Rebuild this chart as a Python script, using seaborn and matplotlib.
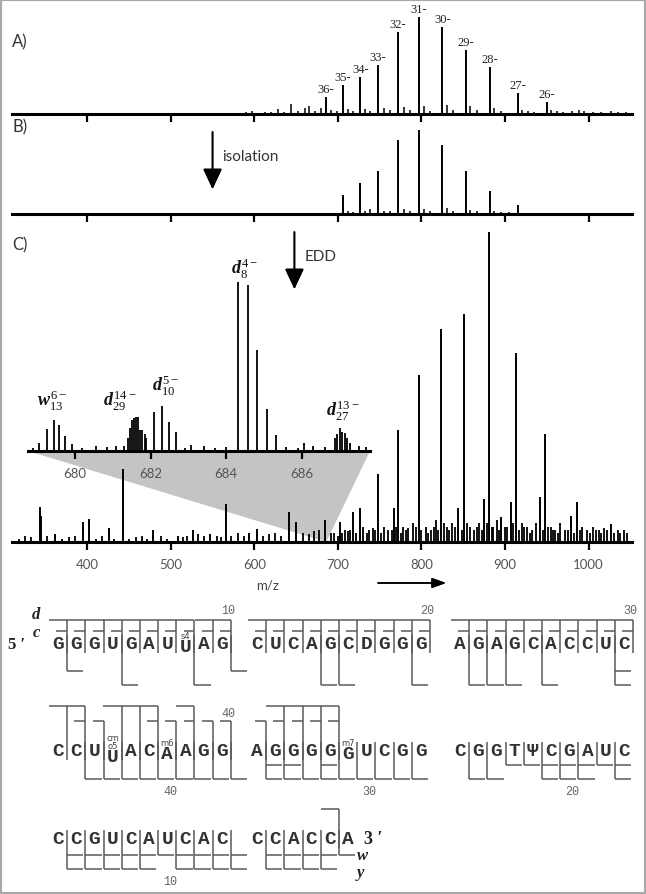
import matplotlib.pyplot as plt
import seaborn as sns
from matplotlib.patches import Polygon, Rectangle

sns.set_theme(style="white")
plt.rcParams["font.family"] = ["Lato", "DejaVu Sans"]
plt.rcParams["mathtext.fontset"] = "custom"
plt.rcParams["mathtext.rm"] = "Liberation Serif"
plt.rcParams["mathtext.it"] = "Liberation Serif:italic"
plt.rcParams["mathtext.bf"] = "Liberation Serif:italic:bold"

# ---------------------------------------------------------------- spectra data
MZ_TICKS = [400, 500, 600, 700, 800, 900, 1000]
MZ_RANGE = (310, 1052)

# A) full MS, charge-state ladder
A_MZ = [686, 706, 727, 748, 772, 797, 825, 853, 882, 915, 950]
A_INT = [0.18, 0.30, 0.38, 0.50, 0.84, 1.00, 0.90, 0.66, 0.48, 0.22, 0.12]
A_CHARGE = ["36-", "35-", "34-", "33-", "32-", "31-", "30-", "29-", "28-", "27-", "26-"]
A_NOISE_MZ = [540, 560, 575, 590, 597, 605, 613, 620, 628, 636, 644, 652, 661, 666, 673, 680,
              692, 699, 712, 718, 733, 739, 755, 762, 779, 786, 803, 810, 831, 838, 858, 866,
              887, 895, 920, 927, 935, 955, 962, 970, 980, 988, 995, 1005, 1015, 1027, 1035, 1045]
A_NOISE_INT = [0.01, 0.015, 0.01, 0.02, 0.03, 0.015, 0.025, 0.02, 0.05, 0.02, 0.10, 0.03, 0.06,
               0.08, 0.03, 0.06, 0.04, 0.03, 0.05, 0.03, 0.05, 0.03, 0.06, 0.04, 0.07, 0.04, 0.08,
               0.03, 0.09, 0.04, 0.08, 0.04, 0.06, 0.03, 0.04, 0.03, 0.02, 0.04, 0.03, 0.02, 0.03,
               0.04, 0.03, 0.02, 0.02, 0.03, 0.02, 0.02]

# B) after isolation
B_MZ = [706, 727, 748, 772, 797, 825, 853, 882, 915]
B_INT = [0.23, 0.37, 0.52, 0.89, 1.00, 0.83, 0.51, 0.28, 0.105]
B_NOISE_MZ = [712, 718, 733, 739, 755, 762, 779, 786, 803, 810, 831, 838, 858, 866, 887, 895, 905]
B_NOISE_INT = [0.03, 0.02, 0.04, 0.06, 0.04, 0.03, 0.06, 0.04, 0.06, 0.03, 0.07, 0.04, 0.05, 0.04,
               0.04, 0.02, 0.02]

# C) EDD spectrum
C_MZ = [343, 345, 362, 395, 402, 426, 443, 479, 509, 527, 547, 566, 594, 603, 642, 650, 684, 702,
        718, 727, 748, 767, 772, 797, 823, 844, 851, 875, 881, 895, 907, 913, 942, 948, 979, 986, 1027]
C_INT = [0.112, 0.083, 0.025, 0.065, 0.074, 0.044, 0.235, 0.04, 0.02, 0.04, 0.027, 0.123, 0.028,
         0.041, 0.096, 0.065, 0.071, 0.065, 0.096, 0.11, 0.22, 0.11, 0.36, 0.54, 0.686, 0.11, 0.735,
         0.14, 1.0, 0.08, 0.13, 0.61, 0.146, 0.35, 0.085, 0.13, 0.057]
C_NOISE_MZ = [318, 325, 333, 352, 370, 378, 385, 410, 418, 432, 450, 458, 465, 472, 488, 495, 515,
              520, 533, 540, 555, 560, 572, 580, 588, 610, 618, 625, 632, 658, 665, 672, 678, 692,
              708, 712, 730, 737, 742, 755, 760, 778, 784, 790, 805, 812, 818, 830, 836, 858, 863,
              869, 886, 890, 900, 920, 926, 932, 937, 955, 960, 966, 972, 992, 998, 1005, 1012, 1018,
              1035, 1042]
C_NOISE_INT = [0.01, 0.02, 0.015, 0.02, 0.01, 0.015, 0.02, 0.01, 0.02, 0.01, 0.01, 0.015, 0.02,
               0.01, 0.02, 0.01, 0.015, 0.02, 0.025, 0.02, 0.02, 0.015, 0.02, 0.03, 0.02, 0.02,
               0.025, 0.03, 0.02, 0.03, 0.025, 0.035, 0.04, 0.03, 0.04, 0.035, 0.05, 0.04, 0.045,
               0.05, 0.04, 0.05, 0.045, 0.06, 0.05, 0.04, 0.07, 0.05, 0.06, 0.05, 0.04, 0.06, 0.05,
               0.07, 0.05, 0.06, 0.05, 0.04, 0.06, 0.05, 0.04, 0.06, 0.04, 0.05, 0.04, 0.05, 0.04,
               0.045, 0.04, 0.04]
C_NOISE2_MZ = [695, 700, 705, 715, 722, 735, 745, 752, 765, 770, 775, 782, 793, 800, 808, 815, 820,
               827, 833, 840, 848, 855, 866, 872, 878, 884, 893, 903, 910, 917, 923, 930, 945, 952,
               958, 964, 976, 983, 990, 1002, 1009, 1015, 1022, 1030, 1038, 1046]
C_NOISE2_INT = [0.03, 0.02, 0.03, 0.04, 0.03, 0.03, 0.04, 0.03, 0.04, 0.05, 0.03, 0.04, 0.05,
                0.04, 0.03, 0.05, 0.04, 0.06, 0.04, 0.05, 0.04, 0.06, 0.05, 0.04, 0.06, 0.05,
                0.04, 0.05, 0.06, 0.04, 0.05, 0.03, 0.04, 0.05, 0.04, 0.03, 0.04, 0.03, 0.04,
                0.03, 0.04, 0.03, 0.04, 0.03, 0.03, 0.03]
ZOOM_MZ = 686

# inset (zoom 679-688)
INS_RANGE = (678.76, 687.8)
INS_TICKS = [680, 682, 684, 686]
INS_MZ = [678.9, 679.06, 679.26, 679.44, 679.59, 679.75, 679.93, 680.2, 680.56, 680.85, 681.09,
          681.3, 681.40, 681.46, 681.52, 681.57, 681.62, 681.68, 681.73, 681.78, 681.84, 681.89,
          682.08, 682.29, 682.49, 682.68, 682.9, 683.08, 683.4, 683.7, 684.0, 684.32, 684.58,
          684.80, 685.07, 685.31, 685.57, 685.9, 686.05, 686.3, 686.6, 686.88, 686.94, 687.01,
          687.07, 687.14, 687.20, 687.27, 687.5, 687.7]
INS_INT = [0.015, 0.046, 0.133, 0.183, 0.153, 0.09, 0.04, 0.02, 0.03, 0.025, 0.03, 0.03, 0.08,
           0.139, 0.183, 0.195, 0.203, 0.199, 0.124, 0.124, 0.10, 0.08, 0.229, 0.269, 0.173, 0.11,
           0.02, 0.036, 0.03, 0.02, 0.025, 1.0, 0.986, 0.598, 0.249, 0.094, 0.024, 0.02, 0.05,
           0.03, 0.025, 0.08, 0.10, 0.139, 0.11, 0.106, 0.08, 0.05, 0.03, 0.025]
INS_ION = ["w", "d", "d", "d", "d"]
INS_NUM = ["13", "29", "10", "8", "27"]
INS_Z = ["6", "14", "5", "4", "13"]
INS_LAB_MZ = [679.0, 680.73, 682.05, 684.12, 686.65]
INS_LAB_Y = [0.27, 0.27, 0.36, 1.05, 0.21]

# ---------------------------------------------------------------- sequence data
SEQ = "GGGUGAUUAGCUCAGCDGGGAGAGCACCUCCCUUACAAGGAGGGGGUCGGCGGTΨCGAUCCCGUCAUCACCCACCA"
MODS = {8: "s4", 34: "cm\no5", 37: "m6", 46: "m7"}
D_FRAGS = [1, 2, 3, 4, 5, 6, 7, 8, 9, 10, 11, 12, 13, 14, 15, 16, 17, 18, 19, 20, 21, 22, 23,
           24, 25, 26, 27, 28, 29, 30, 31, 32, 34, 35, 36, 38, 42, 43, 44, 45, 75]
C_FRAGS = [1, 2, 3, 4, 5, 6, 7, 8, 9, 10, 11, 12, 13, 14, 15, 16, 17, 18, 19, 20, 21, 22, 23,
           24, 25, 26, 27, 28, 29, 30, 32, 33, 36, 37, 38, 39, 40, 41, 42, 43, 44, 45]
W_FRAGS = [75, 66, 47, 35, 34, 32, 23, 22, 21, 20, 19, 18, 17, 15, 14, 13, 12, 11, 10, 9, 8, 7,
           6, 5, 4, 3, 2, 1]
Y_FRAGS = [72, 68, 62, 61, 57, 55, 54, 53, 51, 47, 44, 43, 42, 41, 40, 39, 38, 37, 36, 35, 34,
           33, 32, 31, 30, 29, 28, 27, 25, 24, 21, 20, 19, 17, 15, 14, 13, 12, 11, 9, 8, 7, 6, 5,
           4, 3, 2]
TOP_NUMS = [10, 20, 30, 40]
BOTTOM_NUMS = [40, 30, 20, 10]

# layout of the sequence map (figure pixels)
PITCH = 18.2
BLOCK_X0 = [58, 257, 460]
ROW_Y = [645, 752, 840]
D_LEVEL = [621, 707, 810]
C_LEVEL = [632, 722, 822]
W_LEVEL = [672, 766, 856]
Y_LEVEL = [686, 780, 870]
TOPNUM_Y = [611, 714, 0]
BOTNUM_Y = [0, 792, 882]

W, H = 646, 895
fig = plt.figure(figsize=(W / 100, H / 100), dpi=100)
fig.patch.set_facecolor("white")


def px_axes(x0, y0, x1, y1):
    return fig.add_axes([x0 / W, 1 - y1 / H, (x1 - x0) / W, (y1 - y0) / H])


def style_spectrum(ax, xlim, ticks, labels):
    ax.set_xlim(*xlim)
    ax.set_facecolor("none")
    for s in ["top", "right", "left"]:
        ax.spines[s].set_visible(False)
    ax.spines["bottom"].set_linewidth(2.2)
    ax.spines["bottom"].set_color("black")
    ax.set_yticks([])
    ax.set_xticks(ticks)
    ax.tick_params(axis="x", bottom=True, direction="out", length=5.5, width=1.6, color="black",
                   labelsize=9.5, labelcolor="#555", pad=6)
    if not labels:
        ax.set_xticklabels([])


def ptext(x, y, s, **kw):
    fig.text(x / W, 1 - y / H, s, **kw)


# A
ax_a = px_axes(12, 12, 632, 115)
style_spectrum(ax_a, MZ_RANGE, MZ_TICKS, False)
ax_a.set_ylim(0, 1.06)
ax_a.vlines(A_NOISE_MZ, 0, A_NOISE_INT, color="black", lw=1.1)
ax_a.vlines(A_MZ, 0, A_INT, color="black", lw=1.4)
for mz, h, lab in zip(A_MZ, A_INT, A_CHARGE):
    ax_a.text(mz, h + 0.02, lab, ha="center", va="bottom", fontsize=9,
              family="Liberation Serif", color="#222")

# B
ax_b = px_axes(12, 128, 632, 215)
style_spectrum(ax_b, MZ_RANGE, MZ_TICKS, False)
ax_b.set_ylim(0, 1.04)
ax_b.vlines(B_NOISE_MZ, 0, B_NOISE_INT, color="black", lw=1.1)
ax_b.vlines(B_MZ, 0, B_INT, color="black", lw=1.4)

# C
ax_c = px_axes(12, 233, 632, 543)
style_spectrum(ax_c, MZ_RANGE, MZ_TICKS, True)
ax_c.set_ylim(0, 1.0)
ax_c.vlines(C_NOISE_MZ, 0, C_NOISE_INT, color="black", lw=1.3, zorder=2)
ax_c.vlines(C_NOISE2_MZ, 0, C_NOISE2_INT, color="black", lw=1.3, zorder=2)
ax_c.vlines(C_MZ, 0, C_INT, color="black", lw=1.4, zorder=2)

# inset
ax_i = px_axes(28, 280, 370, 452)
style_spectrum(ax_i, INS_RANGE, INS_TICKS, True)
ax_i.set_ylim(0, 1.02)
ax_i.vlines(INS_MZ, 0, INS_INT, color="black", lw=1.3)
for ion, num, z, mz, y in zip(INS_ION, INS_NUM, INS_Z, INS_LAB_MZ, INS_LAB_Y):
    ax_i.text(mz, y, rf"$\mathbf{{{ion}}}_{{{num}}}^{{\,{z}-}}$", fontsize=13, ha="left",
              va="baseline", color="#111", clip_on=False)

# grey wedge linking inset to the main axis
p_left = ax_i.transAxes.transform((0, 0))
p_right = ax_i.transAxes.transform((1, 0))
p_apex = ax_c.transData.transform((ZOOM_MZ, 0))
wedge = ax_c.transData.inverted().transform([p_left, p_right, p_apex])
ax_c.add_patch(Polygon(wedge, closed=True, facecolor="#c4c4c4", edgecolor="none", zorder=0,
                       clip_on=False))

# panel letters, arrows, axis label
for lab, y in zip(["A)", "B)", "C)"], [42, 127, 245]):
    ptext(12, y, lab, fontsize=12, color="#333", va="center", ha="left")


def down_arrow(ax, mz, y0, y1, label):
    x = ax.transData.transform((mz, 0))[0]
    fig.add_artist(plt.annotate("", xy=(x, H - y1), xytext=(x, H - y0), xycoords="figure pixels",
                                textcoords="figure pixels",
                                arrowprops=dict(arrowstyle="-|>,head_length=0.9,head_width=0.42",
                                                mutation_scale=14, lw=1.2, color="black",
                                                shrinkA=0, shrinkB=0)))
    ptext(x + 10, y0 + 24, label, fontsize=11, color="#333", va="center", ha="left")


down_arrow(ax_b, 550, 133, 190, "isolation")
down_arrow(ax_c, 648, 233, 290, "EDD")

ptext(268, 586, "m/z", fontsize=9.5, color="#444", ha="center", va="center")
fig.add_artist(plt.annotate("", xy=(446, H - 584), xytext=(378, H - 584), xycoords="figure pixels",
                            textcoords="figure pixels",
                            arrowprops=dict(arrowstyle="-|>,head_length=0.7,head_width=0.25",
                                            mutation_scale=12, lw=1.1, color="black",
                                            shrinkA=0, shrinkB=0)))

# ---------------------------------------------------------------- sequence map
ax_s = fig.add_axes([0, 0, 1, (H - 597) / H])
ax_s.set_xlim(0, W)
ax_s.set_ylim(H, 597)
ax_s.axis("off")

LINE = dict(color="#5a5a5a", lw=1.1, solid_capstyle="butt")
MONO = ["Liberation Mono", "DejaVu Sans Mono"]


def res_pos(n):
    k = (n - 1) // 10
    return BLOCK_X0[k % 3] + ((n - 1) % 10) * PITCH, k // 3


for n, base in enumerate(SEQ, start=1):
    x, row = res_pos(n)
    y = ROW_Y[row]
    if n in MODS:
        shift = 6 if "\n" in MODS[n] else 3
        ax_s.text(x, y + shift, base, fontsize=14, family=MONO, weight="bold", color="#333",
                  ha="center", va="center")
        ax_s.text(x, y - 7 + shift, MODS[n], fontsize=6, family="DejaVu Sans", color="#444",
                  ha="center", va="bottom", linespacing=0.9)
    else:
        ax_s.text(x, y, base, fontsize=14, family=MONO, weight="bold", color="#333",
                  ha="center", va="center")

# 5'-fragment brackets (above)
for n in sorted(set(D_FRAGS) | set(C_FRAGS)):
    x, row = res_pos(n)
    gx = x + PITCH / 2
    top = D_LEVEL[row] if n in D_FRAGS else C_LEVEL[row]
    ax_s.plot([gx, gx], [top, ROW_Y[row] + 9], **LINE)
    if n in D_FRAGS:
        ax_s.plot([gx - PITCH, gx], [D_LEVEL[row], D_LEVEL[row]], **LINE)
    if n in C_FRAGS:
        ax_s.plot([gx - 0.6 * PITCH, gx], [C_LEVEL[row], C_LEVEL[row]], **LINE)

# 3'-fragment brackets (below)
for m in sorted(set(W_FRAGS) | set(Y_FRAGS)):
    n = len(SEQ) - m
    x, row = res_pos(n)
    gx = x + PITCH / 2
    bottom = Y_LEVEL[row] if m in Y_FRAGS else W_LEVEL[row]
    ax_s.plot([gx, gx], [ROW_Y[row] - 9, bottom], **LINE)
    if m in W_FRAGS:
        ax_s.plot([gx, gx + 0.9 * PITCH], [W_LEVEL[row], W_LEVEL[row]], **LINE)
    if m in Y_FRAGS:
        ax_s.plot([gx, gx + 0.9 * PITCH], [Y_LEVEL[row], Y_LEVEL[row]], **LINE)

for n in TOP_NUMS:
    x, row = res_pos(n)
    ax_s.text(x + PITCH / 2 - 3, TOPNUM_Y[row], str(n), fontsize=8.5, family=MONO, color="#666",
              ha="center", va="center")
for m in BOTTOM_NUMS:
    x, row = res_pos(len(SEQ) - m)
    ax_s.text(x + PITCH * 1.15, BOTNUM_Y[row], str(m), fontsize=8.5, family=MONO, color="#666",
              ha="center", va="center")

SERIF_BI = dict(family="Liberation Serif", weight="bold", style="italic", color="#222")
x1, _ = res_pos(1)
ax_s.text(x1 - 1.2 * PITCH, D_LEVEL[0] - 6, "d", fontsize=12, ha="center", va="center", **SERIF_BI)
ax_s.text(x1 - 1.2 * PITCH, C_LEVEL[0] + 1, "c", fontsize=12, ha="center", va="center", **SERIF_BI)
ax_s.text(x1 - 2.3 * PITCH, ROW_Y[0], "5 \u2032", fontsize=12, family="Liberation Serif",
          weight="bold", color="#222", ha="center", va="center")
xl, rl = res_pos(len(SEQ))
ax_s.text(xl + 0.9 * PITCH, ROW_Y[rl], "3 \u2032", fontsize=13, family="Liberation Serif",
          weight="bold", color="#222", ha="left", va="center")
ax_s.text(xl + 0.5 * PITCH, W_LEVEL[rl], "w", fontsize=12, ha="left", va="center", **SERIF_BI)
ax_s.text(xl + 0.5 * PITCH, Y_LEVEL[rl] + 3, "y", fontsize=12, ha="left", va="center", **SERIF_BI)

fig.add_artist(Rectangle((0, 0), 1, 1, transform=fig.transFigure, fill=False,
                         edgecolor="#a8a8a8", lw=3))

fig.savefig("out.png", dpi=100)
